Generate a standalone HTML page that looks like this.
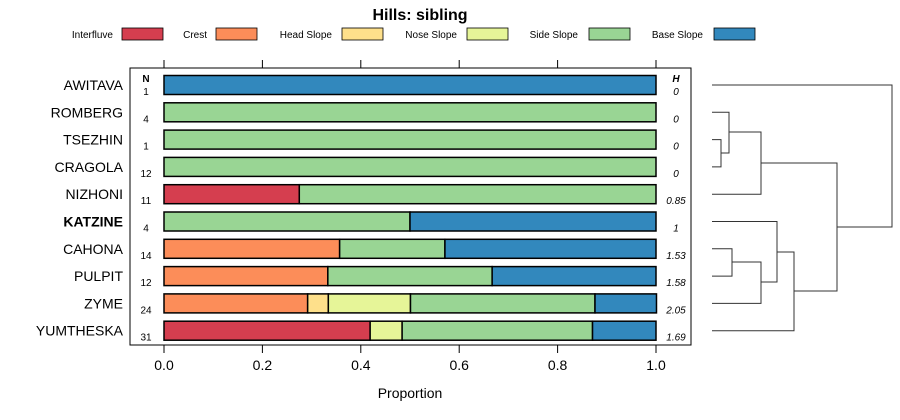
<!DOCTYPE html>
<html><head><meta charset="utf-8"><style>
body{margin:0;background:#fff;}
svg{display:block;font-family:"Liberation Sans",sans-serif;}
</style></head><body>
<svg id="c" width="900" height="420"></svg>
<script>
const sites=["AWITAVA","ROMBERG","TSEZHIN","CRAGOLA","NIZHONI","KATZINE","CAHONA","PULPIT","ZYME","YUMTHESKA"];
const counts=[1,4,1,12,11,4,14,12,24,31];
const entropy=["0","0","0","0","0.85","1","1.53","1.58","2.05","1.69"];
const classes=["Interfluve","Crest","Head Slope","Nose Slope","Side Slope","Base Slope"];
const colors=["#d53e4f","#fc8d59","#fee08b","#e6f598","#99d594","#3288bd"];
const interfluve=[0,0,0,0,0.275,0,0,0,0,0.419];
const crest=[0,0,0,0,0,0,0.357,0.333,0.292,0];
const headSlope=[0,0,0,0,0,0,0,0,0.042,0];
const noseSlope=[0,0,0,0,0,0,0,0,0.167,0.065];
const sideSlope=[0,1,1,1,0.725,0.5,0.214,0.334,0.375,0.387];
const baseSlope=[1,0,0,0,0,0.5,0.429,0.333,0.125,0.129];
const xTicks=[0,0.2,0.4,0.6,0.8,1.0];
const series=[interfluve,crest,headSlope,noseSlope,sideSlope,baseSlope];
const ns="http://www.w3.org/2000/svg";
const svg=document.getElementById('c');
function mk(t,a,p){const e=document.createElementNS(ns,t);for(const k in a)e.setAttribute(k,a[k]);(p||svg).appendChild(e);return e;}
const X=v=>164+v*492;
const Y=i=>85+i*27.3;
let t=mk('text',{x:420,y:20,'text-anchor':'middle','font-size':16,'font-weight':'bold'});t.textContent='Hills: sibling';

const lx=[[113,122],[207,216],[332,342],[457,467],[578,589],[703,714]];
classes.forEach((c,i)=>{
 const g=mk('g',{});
 
 const tt=mk('text',{x:lx[i][0],y:38,'text-anchor':'end','font-size':10},g);tt.textContent=c;
 mk('rect',{x:lx[i][1],y:28,width:41,height:12,fill:colors[i],stroke:'#000','stroke-width':0.8},g);
});
const box=mk('rect',{x:130,y:68,width:561,height:277,fill:'none',stroke:'#000','stroke-width':1});

xTicks.forEach(v=>{
 mk('line',{x1:X(v),x2:X(v),y1:60,y2:68,stroke:'#000'});
 mk('line',{x1:X(v),x2:X(v),y1:345,y2:353,stroke:'#000'});
 const l=mk('text',{x:X(v),y:370,'text-anchor':'middle','font-size':14});l.textContent=v.toFixed(1);
 
});
t=mk('text',{x:410,y:398,'text-anchor':'middle','font-size':14});t.textContent='Proportion';

t=mk('text',{x:146,y:82,'text-anchor':'middle','font-size':10,'font-weight':'bold'});t.textContent='N';

t=mk('text',{x:676,y:82,'text-anchor':'middle','font-size':10,'font-weight':'bold','font-style':'italic'});t.textContent='H';

sites.forEach((s,i)=>{
 const y=Y(i);
 const l=mk('text',{x:123,y:y+5,'text-anchor':'end','font-size':14,'font-weight':s==='KATZINE'?'bold':'normal'});l.textContent=s;
 
 const n=mk('text',{x:146,y:y+10,'text-anchor':'middle','font-size':10});n.textContent=counts[i];
 
 const h=mk('text',{x:676,y:y+10,'text-anchor':'middle','font-size':10,'font-style':'italic'});h.textContent=entropy[i];
 
 let cum=0;
 series.forEach((ser,k)=>{
  const v=ser[i];if(v<=0)return;
  const r=mk('rect',{x:X(cum),y:y-9.5,width:X(cum+v)-X(cum),height:19,fill:colors[k],stroke:'#000','stroke-width':1.5});
  
  cum+=v;
 });
});
// dendrogram
const dg=mk('g',{fill:'none',stroke:'#333','stroke-width':1});

function link(x,y1,x1,y2,x2){mk('path',{d:`M${x1},${y1}H${x}V${y2}H${x2}`},dg);}
const L=712;
link(721,Y(2),L,Y(3),L);
link(729,Y(1),L,153,721);
link(761,132,729,Y(4),L);
link(732,Y(6),L,Y(7),L);
link(761,262,732,Y(8),L);
link(777,Y(5),L,282,761);
link(794,252,777,Y(9),L);
link(837,163,761,291,794);
link(892,Y(0),L,227,837);
</script>
</body></html>
